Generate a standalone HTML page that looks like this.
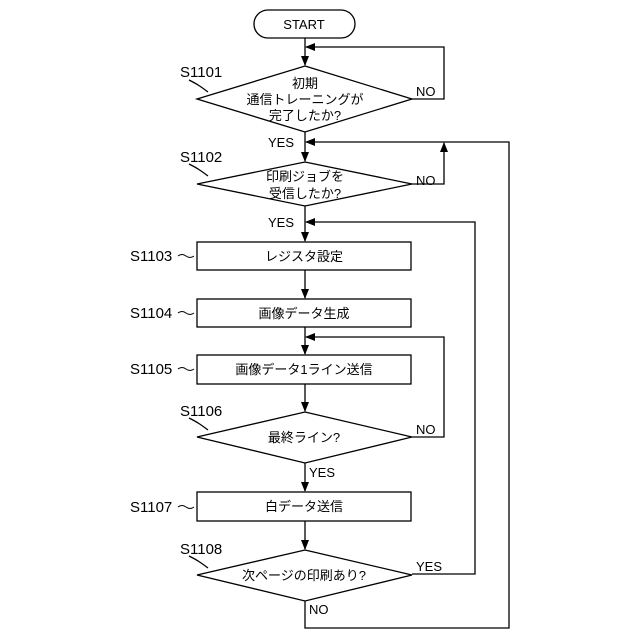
<!DOCTYPE html>
<html><head><meta charset="utf-8"><style>
html,body{margin:0;padding:0;background:#fff;}
svg{display:block;}
text{font-family:"Liberation Sans","Noto Sans CJK JP",sans-serif;font-size:13px;fill:#000;}
.l{font-size:15px;}
</style></head><body>
<svg width="640" height="640" viewBox="0 0 640 640" xmlns="http://www.w3.org/2000/svg">
<defs>
<marker id="a" markerWidth="10" markerHeight="10" refX="9" refY="5" orient="auto" markerUnits="userSpaceOnUse">
<path d="M0,1 L10,5 L0,9 Z" fill="#000"/></marker>
</defs>
<g stroke="#000" stroke-width="1.3" fill="none">
<rect x="254" y="10" width="101" height="28" rx="14" fill="#fff"/>
<line x1="305" y1="38" x2="305" y2="65" marker-end="url(#a)"/>
<polygon points="305,66 412,99 305,132 197,99" fill="#fff"/>
<polyline points="412,99 444,99 444,47 306,47" marker-end="url(#a)"/>
<line x1="305" y1="132" x2="305" y2="161" marker-end="url(#a)"/>
<polygon points="305,162 412,184 305,206 197,184" fill="#fff"/>
<polyline points="412,184 444,184 444,143" marker-end="url(#a)"/>
<line x1="305" y1="206" x2="305" y2="241" marker-end="url(#a)"/>
<rect x="197" y="242" width="214" height="28" fill="#fff"/>
<line x1="305" y1="270" x2="305" y2="298" marker-end="url(#a)"/>
<rect x="197" y="299" width="214" height="28" fill="#fff"/>
<line x1="305" y1="327" x2="305" y2="354" marker-end="url(#a)"/>
<rect x="197" y="355" width="214" height="29" fill="#fff"/>
<polyline points="412,437 444,437 444,337 306,337" marker-end="url(#a)"/>
<line x1="305" y1="384" x2="305" y2="411" marker-end="url(#a)"/>
<polygon points="305,412 412,437 305,463 197,437" fill="#fff"/>
<line x1="305" y1="463" x2="305" y2="491" marker-end="url(#a)"/>
<rect x="197" y="492" width="214" height="29" fill="#fff"/>
<line x1="305" y1="521" x2="305" y2="549" marker-end="url(#a)"/>
<polygon points="305,550 412,575 305,601 197,575" fill="#fff"/>
<polyline points="412,574 475,574 475,222 306,222" marker-end="url(#a)"/>
<polyline points="305,601 305,628 509,628 509,142 306,142" marker-end="url(#a)"/>
<path d="M208,92 C200,86 197,84 189,80 M208,176 C200,170 197,168 189,164 M208,430 C200,424 197,422 189,418 M208,568 C200,562 197,560 189,556"/>
<path d="M178,256 q4,-3 8,0 t8,0 M178,313 q4,-3 8,0 t8,0 M178,369 q4,-3 8,0 t8,0 M178,507 q4,-3 8,0 t8,0" stroke-width="1"/>
</g>
<text x="304" y="29" text-anchor="middle">START</text>
<text x="305" y="88" text-anchor="middle">初期</text>
<text x="305" y="104" text-anchor="middle">通信トレーニングが</text>
<text x="305" y="120" text-anchor="middle">完了したか?</text>
<text x="416" y="96">NO</text>
<text x="268" y="147">YES</text>
<text x="305" y="181" text-anchor="middle">印刷ジョブを</text>
<text x="305" y="198" text-anchor="middle">受信したか?</text>
<text x="416" y="185">NO</text>
<text x="268" y="227">YES</text>
<text x="304" y="261" text-anchor="middle">レジスタ設定</text>
<text x="304" y="318" text-anchor="middle">画像データ生成</text>
<text x="304" y="374" text-anchor="middle">画像データ1ライン送信</text>
<text x="304" y="442" text-anchor="middle">最終ライン?</text>
<text x="416" y="434">NO</text>
<text x="309" y="477">YES</text>
<text x="304" y="511" text-anchor="middle">白データ送信</text>
<text x="304" y="580" text-anchor="middle">次ページの印刷あり?</text>
<text x="416" y="571">YES</text>
<text x="309" y="614">NO</text>
<text class="l" x="180" y="77">S1101</text>
<text class="l" x="180" y="162">S1102</text>
<text class="l" x="130" y="261">S1103</text>
<text class="l" x="130" y="318">S1104</text>
<text class="l" x="130" y="374">S1105</text>
<text class="l" x="180" y="416">S1106</text>
<text class="l" x="130" y="512">S1107</text>
<text class="l" x="180" y="554">S1108</text>
</svg>
</body></html>
